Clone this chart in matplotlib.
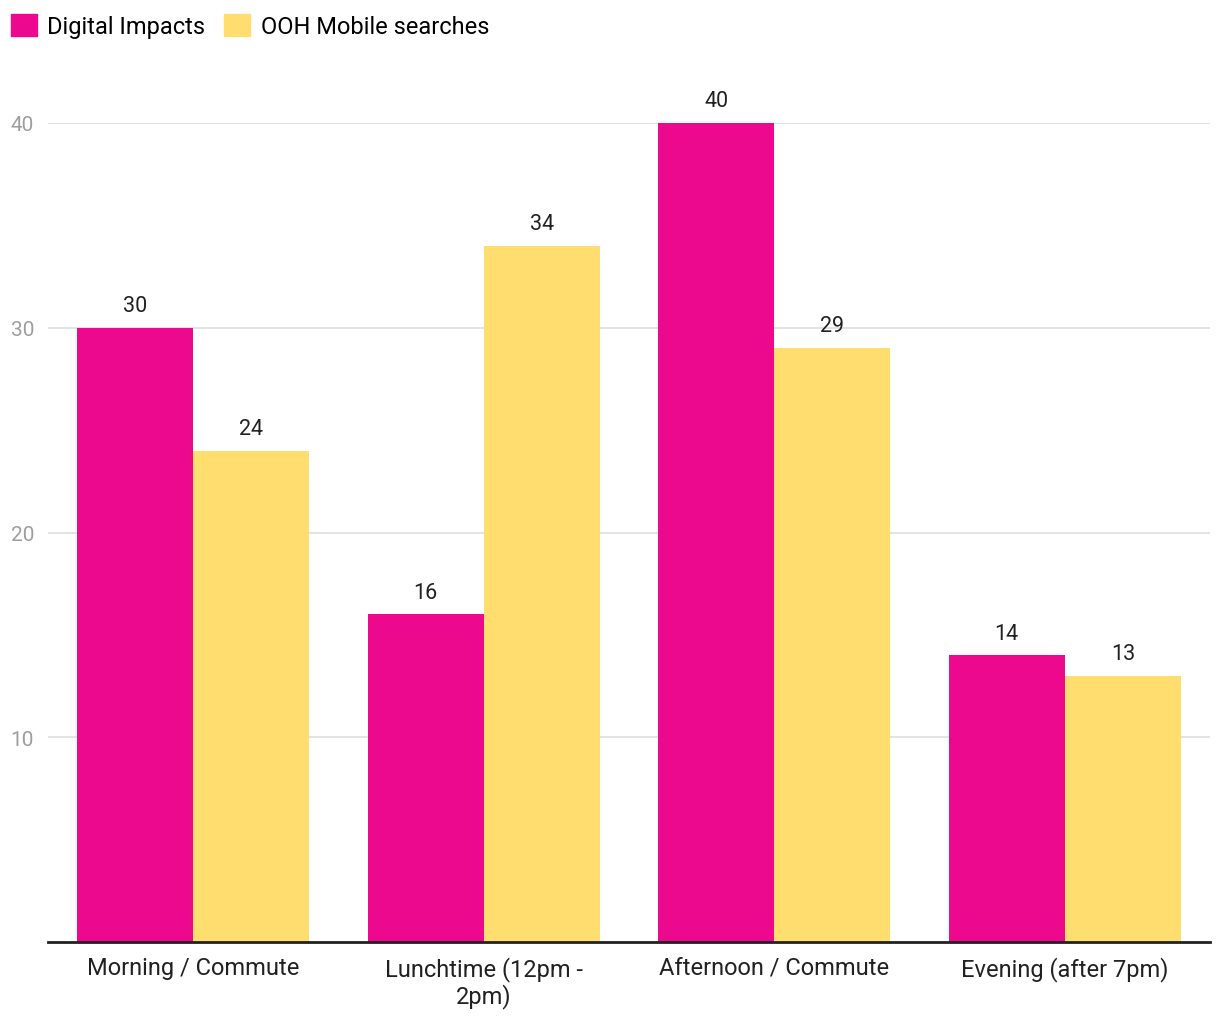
import matplotlib
matplotlib.use("Agg")
import numpy as np
import matplotlib.pyplot as plt
from matplotlib.patches import Patch

categories = ["Morning / Commute", "Lunchtime (12pm -\n2pm)", "Afternoon / Commute", "Evening (after 7pm)"]
digital_impacts = [30, 16, 40, 14]
ooh_mobile_searches = [24, 34, 29, 13]
series_names = ["Digital Impacts", "OOH Mobile searches"]
y_ticks = [10, 20, 30, 40]

PINK = "#EC098D"
YELLOW = "#FFDD6E"

plt.rcParams["font.family"] = ["Roboto", "DejaVu Sans"]

fig = plt.figure(figsize=(12.2, 10.2), dpi=100)
ax = fig.add_axes([48 / 1220, 1 - 943 / 1020, 1162 / 1220, 819 / 1020])

x = np.arange(len(categories))
width = 0.4
bars_a = ax.bar(x - width / 2, digital_impacts, width, color=PINK, zorder=2)
bars_b = ax.bar(x + width / 2, ooh_mobile_searches, width, color=YELLOW, zorder=2)

for bars in (bars_a, bars_b):
    for b in bars:
        ax.annotate(f"{b.get_height():g}", (b.get_x() + b.get_width() / 2, b.get_height()),
                    xytext=(0, 8.5), textcoords="offset points", ha="center", va="bottom",
                    fontsize=15.5, color="#212121", clip_on=False)

ax.set_xlim(-0.5, len(categories) - 0.5)
ax.set_ylim(0, 40)
ax.set_yticks(y_ticks)
ax.set_yticklabels([str(t) for t in y_ticks])
ax.set_xticks(x)
ax.set_xticklabels(categories, fontsize=17, color="#212121", linespacing=1.1)
ax.tick_params(axis="y", length=0, pad=10, labelsize=15, labelcolor="#9E9E9E")
ax.tick_params(axis="x", length=0, pad=10)
ax.grid(axis="y", color="#E0E0E0", linewidth=1.3, zorder=0)
for side in ("top", "right", "left"):
    ax.spines[side].set_visible(False)
ax.spines["bottom"].set_color("#212121")
ax.spines["bottom"].set_linewidth(2)
ax.spines["bottom"].set_zorder(3)

handles = [Patch(color=PINK), Patch(color=YELLOW)]
fig.legend(handles, series_names, loc="upper left", bbox_to_anchor=(0.0, 0.996), ncol=2,
           frameon=False, fontsize=17, handlelength=1.1, handleheight=1.1,
           handletextpad=0.45, columnspacing=0.8, borderaxespad=0.0, borderpad=0.45)

fig.savefig("out.png", dpi=100)
